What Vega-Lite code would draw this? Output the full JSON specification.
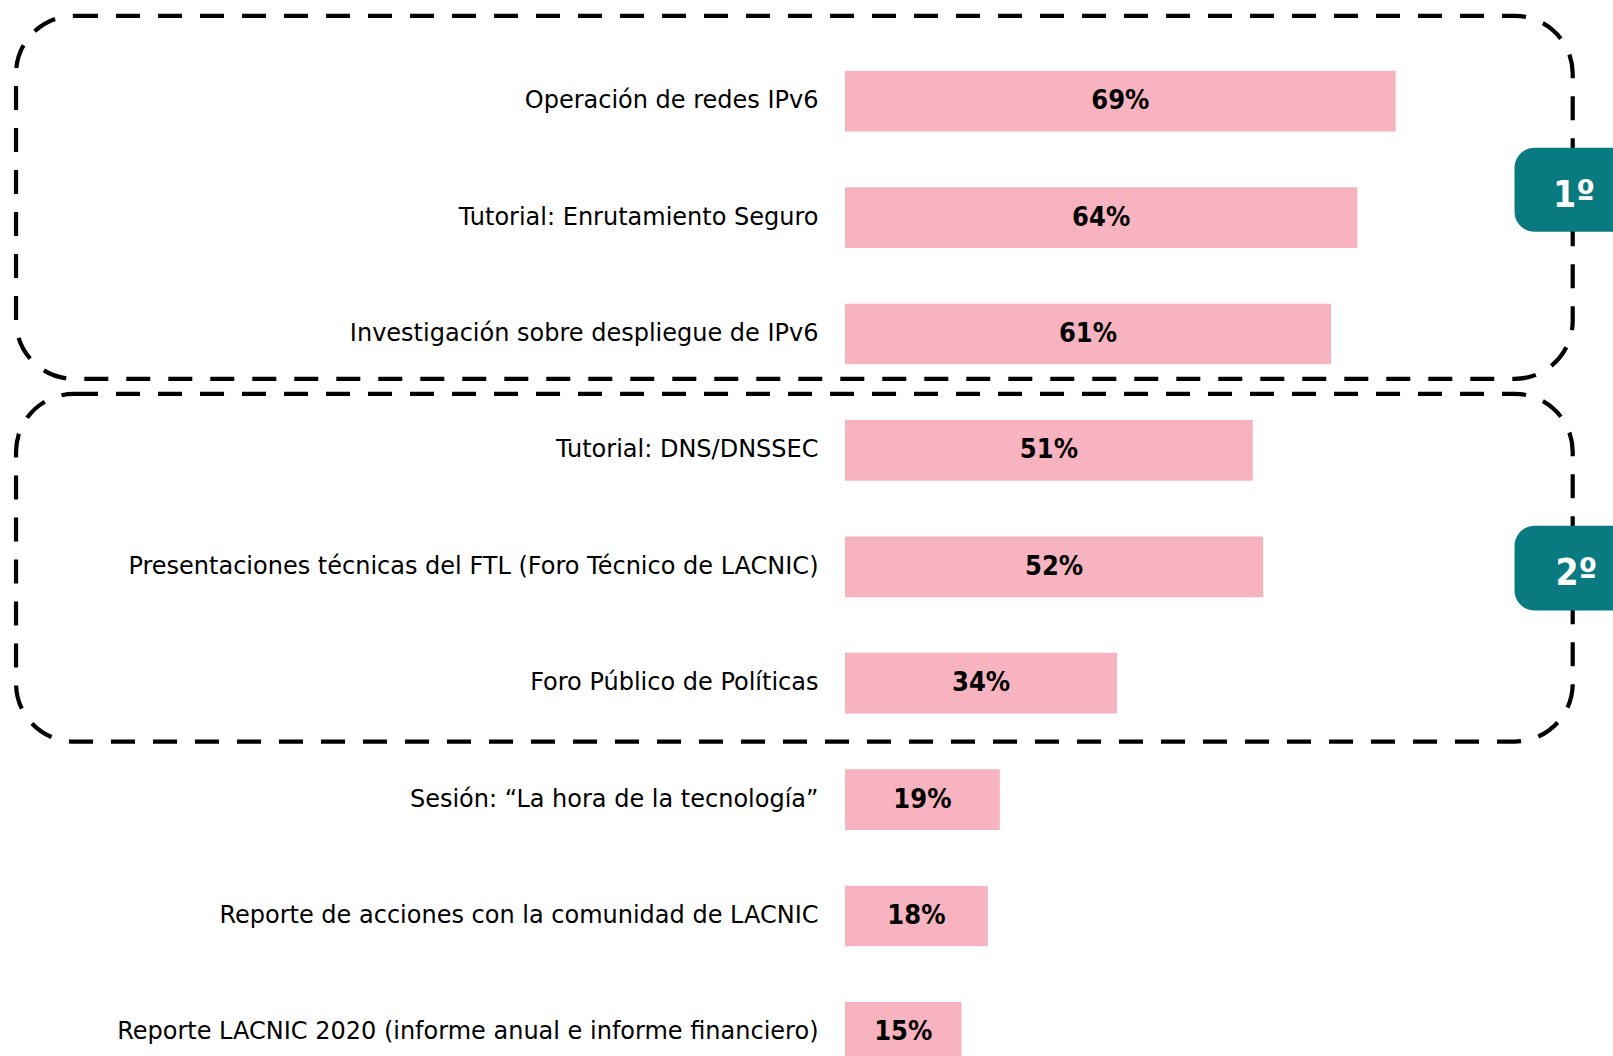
{
  "$schema": "https://vega.github.io/schema/vega-lite/v6.json",
  "width": 768,
  "height": 1013,
  "autosize": {"type": "none"},
  "padding": {"left": 845, "top": 43, "right": 0, "bottom": 0},
  "background": "white",
  "config": {"view": {"stroke": null}, "font": "DejaVu Sans Condensed"},
  "data": {
    "values": [
      {"actividad": "Operación de redes IPv6", "valor": 0.69},
      {"actividad": "Tutorial: Enrutamiento Seguro", "valor": 0.642},
      {"actividad": "Investigación sobre despliegue de IPv6", "valor": 0.609},
      {"actividad": "Tutorial: DNS/DNSSEC", "valor": 0.511},
      {"actividad": "Presentaciones técnicas del FTL (Foro Técnico de LACNIC)", "valor": 0.524},
      {"actividad": "Foro Público de Políticas", "valor": 0.341},
      {"actividad": "Sesión: “La hora de la tecnología”", "valor": 0.194},
      {"actividad": "Reporte de acciones con la comunidad de LACNIC", "valor": 0.179},
      {"actividad": "Reporte LACNIC 2020 (informe anual e informe financiero)", "valor": 0.146}
    ]
  },
  "layer": [
    {
      "layer": [
        {
          "mark": {"type": "bar", "color": "#f7b4c0"},
          "encoding": {
            "y": {
              "field": "actividad",
              "type": "nominal",
              "sort": null,
              "scale": {
                "domain": [
                  "Operación de redes IPv6",
                  "Tutorial: Enrutamiento Seguro",
                  "Investigación sobre despliegue de IPv6",
                  "Tutorial: DNS/DNSSEC",
                  "Presentaciones técnicas del FTL (Foro Técnico de LACNIC)",
                  "Foro Público de Políticas",
                  "Sesión: “La hora de la tecnología”",
                  "Reporte de acciones con la comunidad de LACNIC",
                  "Reporte LACNIC 2020 (informe anual e informe financiero)"
                ],
                "range": [0, 1047.6],
                "paddingInner": 0.4785,
                "paddingOuter": 0.239
              },
              "axis": {
                "title": null,
                "domain": false,
                "ticks": false,
                "labelPadding": 27,
                "labelFontSize": 24,
                "labelColor": "#000000",
                "labelFont": "DejaVu Sans",
                "labelLimit": 1000
              }
            },
            "x": {"field": "valor", "type": "quantitative", "scale": {"domain": [0, 0.9624], "nice": false}, "axis": null}
          }
        },
        {
          "data": {"values": [{"grupo": "1º", "desde": "Operación de redes IPv6", "hasta": "Investigación sobre despliegue de IPv6"}]},
          "mark": {"type": "rect", "fill": "transparent", "stroke": "#000000", "strokeWidth": 4.2, "strokeDash": [24, 18], "cornerRadius": 58, "yOffset": -85.35, "y2Offset": 44.85},
          "encoding": {
            "y": {"field": "desde", "type": "nominal"},
            "y2": {"field": "hasta"},
            "x": {"datum": -1.0388, "type": "quantitative", "scale": {"domain": [0, 0.9624], "nice": false}, "axis": null},
            "x2": {"datum": 0.9119}
          }
        },
        {
          "data": {"values": [{"grupo": "2º", "desde": "Tutorial: DNS/DNSSEC", "hasta": "Foro Público de Políticas"}]},
          "mark": {"type": "rect", "fill": "transparent", "stroke": "#000000", "strokeWidth": 4.2, "strokeDash": [24, 18], "cornerRadius": 58, "yOffset": -56.55, "y2Offset": 58.35},
          "encoding": {
            "y": {"field": "desde", "type": "nominal"},
            "y2": {"field": "hasta"},
            "x": {"datum": -1.0388, "type": "quantitative", "scale": {"domain": [0, 0.9624], "nice": false}, "axis": null},
            "x2": {"datum": 0.9119}
          }
        },
        {
          "data": {"values": [{"grupo": "1º", "fila": "Tutorial: Enrutamiento Seguro"}]},
          "layer": [
            {
              "mark": {"type": "rect", "fill": "#087a80", "cornerRadius": 20, "yOffset": -69.75, "y2Offset": 14.25},
              "encoding": {
                "y": {"field": "fila", "type": "nominal"},
                "y2": {"field": "fila"},
                "x": {"datum": 0.839, "type": "quantitative", "scale": {"domain": [0, 0.9624], "nice": false}, "axis": null},
                "x2": {"datum": 1.06}
              }
            },
            {
              "mark": {"type": "text", "color": "#ffffff", "fontSize": 37, "fontWeight": "bold", "baseline": "middle", "dy": -22},
              "encoding": {
                "y": {"field": "fila", "type": "nominal"},
                "x": {"datum": 0.9135, "type": "quantitative", "scale": {"domain": [0, 0.9624], "nice": false}, "axis": null},
                "text": {"field": "grupo"}
              }
            }
          ]
        },
        {
          "data": {"values": [{"grupo": "2º", "fila": "Presentaciones técnicas del FTL (Foro Técnico de LACNIC)"}]},
          "layer": [
            {
              "mark": {"type": "rect", "fill": "#087a80", "cornerRadius": 20, "yOffset": -41, "y2Offset": 43.7},
              "encoding": {
                "y": {"field": "fila", "type": "nominal"},
                "y2": {"field": "fila"},
                "x": {"datum": 0.839, "type": "quantitative", "scale": {"domain": [0, 0.9624], "nice": false}, "axis": null},
                "x2": {"datum": 1.06}
              }
            },
            {
              "mark": {"type": "text", "color": "#ffffff", "fontSize": 37, "fontWeight": "bold", "baseline": "middle", "dy": 7},
              "encoding": {
                "y": {"field": "fila", "type": "nominal"},
                "x": {"datum": 0.9165, "type": "quantitative", "scale": {"domain": [0, 0.9624], "nice": false}, "axis": null},
                "text": {"field": "grupo"}
              }
            }
          ]
        }
      ]
    },
    {
      "mark": {"type": "text", "fontSize": 27, "fontWeight": "bold", "color": "#000000", "baseline": "middle", "align": "center"},
      "encoding": {
        "y": {"field": "actividad", "type": "nominal"},
        "x": {"field": "valor", "type": "quantitative", "scale": {"domain": [0, 1.9248], "nice": false}, "axis": null},
        "text": {"field": "valor", "type": "quantitative", "format": ".0%"}
      }
    }
  ],
  "resolve": {"scale": {"x": "independent"}}
}
